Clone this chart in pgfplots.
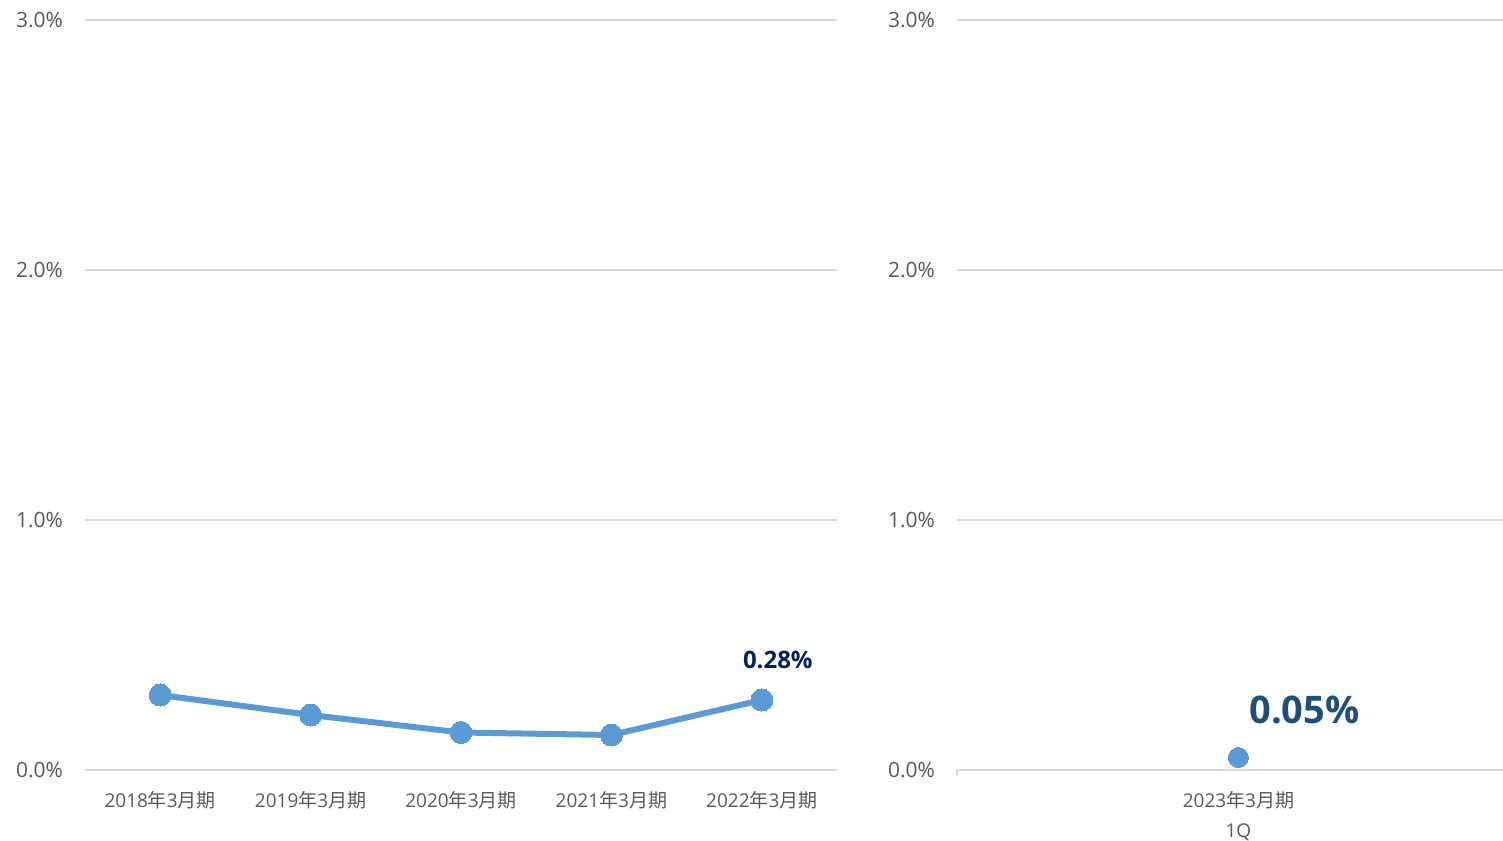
\documentclass[border=0pt]{standalone}
\usepackage{pgfplots}
\pgfplotsset{compat=1.18}
\usepackage{fontspec}
\setmainfont{Open Sans}
\newfontfamily\jp{Noto Sans CJK JP}
\definecolor{lineblue}{HTML}{5B9BD5}
\definecolor{gridgray}{HTML}{D9D9D9}
\definecolor{ticktext}{HTML}{595959}
\definecolor{navy}{HTML}{002060}
\definecolor{darkblue}{HTML}{1F4E79}
\pgfplotsset{
  common/.style={
    scale only axis,
    anchor=south west,
    height=375pt,
    ymin=0, ymax=3,
    ytick={0,1,2,3},
    axis line style={draw=none},
    ymajorgrids,
    grid style={gridgray, line width=1pt},
    major tick length=0pt,
    /pgf/number format/assume math mode=true,
    yticklabel={\pgfmathprintnumber[fixed,fixed zerofill,precision=1]{\tick}\%},
    yticklabel style={font=\fontsize{10.5}{12}\selectfont, text=ticktext, anchor=east, xshift=-7.5pt},
    xticklabel style={font=\fontsize{9.5}{15}\selectfont, text=ticktext, align=center, anchor=north, yshift=-7pt},
    xtick=data,
    clip=false,
  }
}
\begin{document}
\begin{tikzpicture}
\useasboundingbox (0,0) rectangle (751.5pt,420pt);
\begin{axis}[common,
  at={(42.5pt,35pt)}, width=376pt,
  xmin=-0.5, xmax=4.5,
  xticklabels={2018{\jp 年}3{\jp 月期},2019{\jp 年}3{\jp 月期},2020{\jp 年}3{\jp 月期},2021{\jp 年}3{\jp 月期},2022{\jp 年}3{\jp 月期}},
]
\addplot[lineblue, line width=3pt, mark=*, mark size=5.5pt, mark options={fill=lineblue, draw=lineblue, line width=0pt}] coordinates {
(0,0.30) (1,0.22) (2,0.15) (3,0.14) (4,0.28)};
\node[text=navy, font=\bfseries\fontsize{12}{14}\selectfont, xshift=8pt, yshift=20pt] at (axis cs:4,0.28) {0.28\%};
\end{axis}
\begin{axis}[common,
  at={(478.5pt,35pt)}, width=273pt,
  xmin=-0.5, xmax=0.47,
  xticklabels={{2023{\jp 年}3{\jp 月期}\\1Q}},
]
\addplot[only marks, mark=*, mark size=5pt, mark options={fill=lineblue, draw=lineblue, line width=0pt}] coordinates {(0,0.05)};
\node[text=darkblue, font=\bfseries\fontsize{19}{22}\selectfont, xshift=33pt, yshift=24pt] at (axis cs:0,0.05) {0.05\%};
\draw[gridgray, line width=1pt] (axis cs:-0.5,0) -- ++(0pt,-3pt);
\end{axis}
\end{tikzpicture}
\end{document}
